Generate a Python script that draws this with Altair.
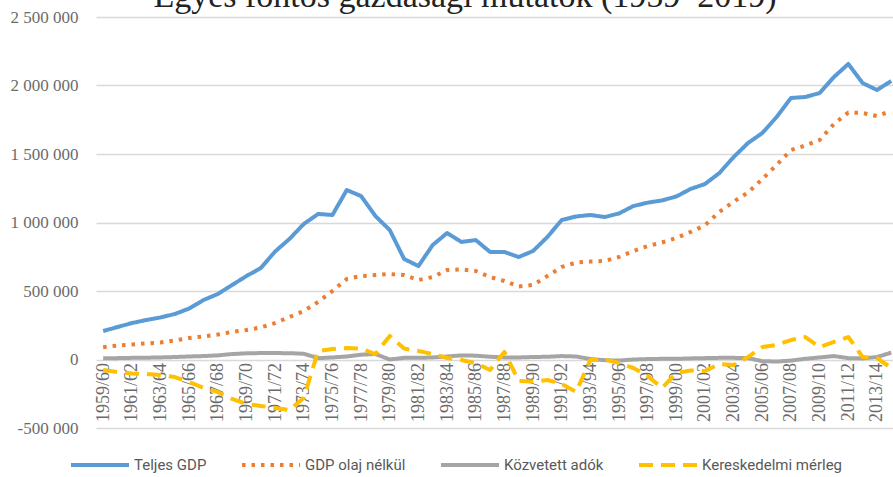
import altair as alt
import pandas as pd

title_text = "Egyes fontos gazdasági mutatók (1959–2019)"

# Fiscal years on the category axis
seasons = [
    "1959/60", "1960/61", "1961/62", "1962/63", "1963/64", "1964/65", "1965/66",
    "1966/67", "1967/68", "1968/69", "1969/70", "1970/71", "1971/72", "1972/73",
    "1973/74", "1974/75", "1975/76", "1976/77", "1977/78", "1978/79", "1979/80",
    "1980/81", "1981/82", "1982/83", "1983/84", "1984/85", "1985/86", "1986/87",
    "1987/88", "1988/89", "1989/90", "1990/91", "1991/92", "1992/93", "1993/94",
    "1994/95", "1995/96", "1996/97", "1997/98", "1998/99", "1999/00", "2000/01",
    "2001/02", "2002/03", "2003/04", "2004/05", "2005/06", "2006/07", "2007/08",
    "2008/09", "2009/10", "2010/11", "2011/12", "2012/13", "2013/14", "2014/15",
]

series_names = ["Teljes GDP", "GDP olaj nélkül", "Közvetett adók", "Kereskedelmi mérleg"]

teljes_gdp = [
    208000, 237000, 266000, 288000, 307000, 332000, 372000, 434000, 478000, 544000,
    609000, 668000, 788000, 880000, 989000, 1062000, 1055000, 1237000, 1193000, 1047000,
    945000, 734000, 682000, 836000, 923000, 858000, 872000, 785000, 785000, 748000,
    792000, 894000, 1018000, 1044000, 1055000, 1040000, 1066000, 1120000, 1145000, 1161000,
    1190000, 1245000, 1281000, 1361000, 1478000, 1580000, 1653000, 1770000, 1909000, 1916000,
    1945000, 2062000, 2157000, 2018000, 1967000, 2033000,
]

gdp_olaj_nelkul = [
    90000, 102000, 110000, 117000, 124000, 139000, 157000, 168000, 182000, 201000,
    215000, 234000, 266000, 310000, 354000, 420000, 500000, 588000, 609000, 617000,
    624000, 617000, 580000, 602000, 653000, 657000, 646000, 602000, 573000, 533000,
    544000, 609000, 675000, 708000, 715000, 719000, 748000, 792000, 828000, 854000,
    887000, 931000, 980000, 1077000, 1153000, 1219000, 1317000, 1420000, 1529000, 1562000,
    1602000, 1719000, 1803000, 1799000, 1777000, 1814000,
]

kozvetett_adok = [
    10000, 10000, 12000, 13000, 15000, 18000, 22000, 25000, 30000, 40000,
    45000, 47000, 47000, 46000, 42000, 10000, 15000, 22000, 35000, 40000,
    0, 12000, 12000, 15000, 22000, 30000, 28000, 20000, 15000, 15000,
    18000, 20000, 25000, 22000, 3000, -5000, -8000, 0, 3000, 5000,
    5000, 8000, 10000, 12000, 12000, 10000, -12000, -15000, -8000, 5000,
    15000, 25000, 10000, 8000, 18000, 50000,
]

kereskedelmi_merleg = [
    -77000, -91000, -102000, -106000, -113000, -128000, -164000, -208000, -237000, -288000,
    -325000, -339000, -354000, -369000, -281000, 62000, 77000, 84000, 80000, 40000,
    172000, 80000, 62000, 40000, 11000, -4000, -26000, -77000, 55000, -157000,
    -161000, -150000, -179000, -237000, -4000, 0, -26000, -62000, -120000, -208000,
    -99000, -80000, -84000, -33000, -40000, 18000, 91000, 106000, 142000, 164000,
    91000, 128000, 164000, 18000, 11000, -62000,
]

y_ticks = [-500000, 0, 500000, 1000000, 1500000, 2000000, 2500000]

colors = ["#5B9BD5", "#ED7D31", "#A5A5A5", "#FFC000"]
dashes = [[1, 0], [3.5, 6], [1, 0], [14, 8]]

rows = []
for name, vals in zip(series_names, [teljes_gdp, gdp_olaj_nelkul, kozvetett_adok, kereskedelmi_merleg]):
    for i, v in enumerate(vals):
        rows.append({"idx": i, "season": seasons[i], "series": name, "value": v})
df = pd.DataFrame(rows)

x_label_expr = "[" + ",".join(f"'{s}'" for s in seasons) + "][datum.value]"
# thousands grouped with spaces, plain hyphen for negatives
y_label_expr = (
    "replace(replace(format(datum.value, ','), regexp(',', 'g'), ' '), "
    "regexp('\u2212', 'g'), '-')"
)

lines = (
    alt.Chart(df)
    .mark_line(clip=True, strokeWidth=4, strokeJoin="round")
    .encode(
        x=alt.X(
            "idx:Q",
            scale=alt.Scale(domain=[-0.5, 55.12], nice=False, zero=False),
            axis=alt.Axis(
                values=list(range(0, len(seasons), 2)),
                labelExpr=x_label_expr,
                labelAngle=-90,
                labelAlign="right",
                labelBaseline="middle",
                orient="bottom",
                offset=-68.5,
                grid=False,
                domain=False,
                ticks=False,
                labelPadding=3,
                labelFont="Liberation Serif",
                labelFontSize=18,
                labelColor="#6b6b6b",
                labelOverlap=False,
                labelFlush=False,
                title=None,
            ),
        ),
        y=alt.Y(
            "value:Q",
            scale=alt.Scale(domain=[-500000, 2500000], nice=False, zero=False),
            axis=alt.Axis(
                values=y_ticks,
                labelExpr=y_label_expr,
                grid=True,
                gridColor="#d9d9d9",
                gridWidth=1.5,
                domain=False,
                ticks=False,
                labelPadding=18,
                labelFont="Liberation Serif",
                labelFontSize=17,
                labelColor="#6b6b6b",
                title=None,
            ),
        ),
        color=alt.Color(
            "series:N",
            scale=alt.Scale(domain=series_names, range=colors),
            legend=alt.Legend(
                title=None,
                orient="none",
                direction="horizontal",
                legendX=-27,
                legendY=417,
                symbolType="stroke",
                symbolSize=3364,
                symbolStrokeWidth=4,
                labelFont="Roboto",
                labelFontSize=15,
                labelColor="#595959",
                labelOffset=3,
                columnPadding=27,
            ),
        ),
        strokeDash=alt.StrokeDash(
            "series:N",
            scale=alt.Scale(domain=series_names, range=dashes),
            legend=alt.Legend(title=None),
        ),
    )
)

# chart heading, set in the top margin above the plot area
heading = (
    alt.Chart(pd.DataFrame({"t": [title_text]}))
    .mark_text(
        font="Liberation Serif",
        fontSize=34,
        color="#222222",
        align="center",
        baseline="alphabetic",
    )
    .encode(text="t:N", x=alt.value(369), y=alt.value(-10))
)

chart = (
    alt.layer(lines, heading)
    .properties(
        width=797,
        height=411,
        autosize=alt.AutoSizeParams(type="none"),
        padding={"left": 96, "top": 17, "right": 0, "bottom": 49},
    )
    .configure(background="white")
    .configure_view(stroke=None)
)

chart.save("out.html", embed_options={"renderer": "svg", "actions": False})
